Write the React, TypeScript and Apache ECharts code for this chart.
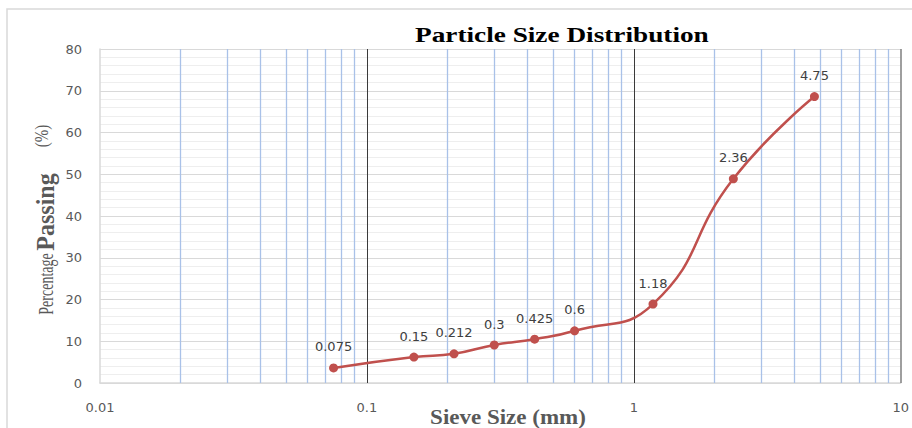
import React, { useEffect, useRef } from "react";
import * as echarts from "echarts";

const sieveSizes = [0.075, 0.15, 0.212, 0.3, 0.425, 0.6, 1.18, 2.36, 4.75];
const percentPassing = [3.6, 6.2, 7.0, 9.1, 10.5, 12.5, 18.9, 48.9, 68.6];
const minorGridX = [
  0.02, 0.03, 0.04, 0.05, 0.06, 0.07, 0.08, 0.09,
  0.2, 0.3, 0.4, 0.5, 0.6, 0.7, 0.8, 0.9,
  2, 3, 4, 5, 6, 7, 8, 9,
];
const majorGridX = [0.1, 1];
const edgeGridX = [10];

const SANS = "'DejaVu Sans', sans-serif";
const SERIF = "'Liberation Serif', serif";

export default function App() {
  const ref = useRef<HTMLDivElement>(null);
  useEffect(() => {
    if (!ref.current) return;
    const chart = echarts.init(ref.current, undefined, { renderer: "svg" });
    const points = sieveSizes.map((x, i) => [x, percentPassing[i]]);
    const gridLines = [
      ...minorGridX.map((v) => ({ xAxis: v, lineStyle: { color: "#a9c1e8", width: 1.3, type: "solid" } })),
      ...majorGridX.map((v) => ({ xAxis: v, lineStyle: { color: "#3a3a3a", width: 1, type: "solid" } })),
      ...edgeGridX.map((v) => ({ xAxis: v, lineStyle: { color: "#7f7f7f", width: 1.5, type: "solid" } })),
    ];
    chart.setOption({
      animation: false,
      backgroundColor: "#ffffff",
      grid: { left: 100, right: 11, top: 49, bottom: 45 },
      graphic: [
        {
          type: "rect",
          z: -10,
          shape: { x: 7, y: 9, width: 930, height: 440 },
          style: { fill: "none", stroke: "#d9d9d9", lineWidth: 1.5 },
          silent: true,
        },
        {
          type: "text",
          x: 415,
          y: 23,
          scaleX: 1.24,
          style: {
            text: "Particle Size Distribution",
            font: "bold 22px " + SERIF,
            fill: "#000000",
            align: "left",
            verticalAlign: "top",
          },
        },
        {
          type: "text",
          x: 508,
          y: 418,
          scaleX: 1.15,
          style: {
            text: "Sieve Size (mm)",
            font: "bold 20px " + SERIF,
            fill: "#595959",
            align: "center",
            verticalAlign: "middle",
          },
        },
        {
          type: "text",
          x: 56,
          y: 284,
          rotation: Math.PI / 2,
          scaleY: 1.5,
          style: {
            text: "Percentage",
            font: "14px " + SERIF,
            fill: "#595959",
            align: "center",
            verticalAlign: "bottom",
          },
        },
        {
          type: "text",
          x: 58,
          y: 212,
          rotation: Math.PI / 2,
          scaleY: 1.05,
          style: {
            text: "Passing",
            font: "bold 24px " + SERIF,
            fill: "#595959",
            align: "center",
            verticalAlign: "bottom",
          },
        },
        {
          type: "text",
          x: 52,
          y: 136,
          rotation: Math.PI / 2,
          scaleY: 1.3,
          style: {
            text: "(%)",
            font: "15px " + SERIF,
            fill: "#595959",
            align: "center",
            verticalAlign: "bottom",
          },
        },
      ],
      xAxis: {
        type: "log",
        logBase: 10,
        min: 0.01,
        max: 10,
        axisLine: { show: true, lineStyle: { color: "#d9d9d9", width: 1.5 } },
        axisTick: { show: false },
        splitLine: { show: false },
        axisLabel: {
          margin: 18,
          color: "#595959",
          fontSize: 13,
          fontFamily: SANS,
          formatter: (v: number) => String(v),
        },
      },
      yAxis: {
        type: "value",
        min: 0,
        max: 80,
        interval: 10,
        axisLine: { show: true, lineStyle: { color: "#d9d9d9", width: 1.5 } },
        axisTick: { show: false },
        axisLabel: {
          margin: 18,
          color: "#595959",
          fontSize: 13,
          fontFamily: SANS,
        },
        splitLine: { show: true, lineStyle: { color: "#d9d9d9", width: 1 } },
        minorTick: { show: false, splitNumber: 5 },
        minorSplitLine: { show: true, lineStyle: { color: "#eeeeee", width: 1 } },
      },
      series: [
        {
          type: "line",
          z: 1,
          data: [],
          silent: true,
          markLine: {
            silent: true,
            symbol: ["none", "none"],
            label: { show: false },
            data: gridLines,
          },
        },
        {
          type: "line",
          z: 5,
          data: points,
          smooth: 0.5,
          symbol: "circle",
          symbolSize: 9,
          lineStyle: { color: "#c0504d", width: 2.5 },
          itemStyle: { color: "#c0504d" },
          label: {
            show: true,
            position: "top",
            distance: 10,
            color: "#404040",
            fontSize: 13,
            fontFamily: SANS,
            formatter: (p: any) => String(p.value[0]),
          },
        },
      ],
    });
    return () => chart.dispose();
  }, []);
  return (
    <div
      ref={ref}
      style={{ position: "fixed", left: 0, top: 0, width: 912, height: 428 }}
    />
  );
}
